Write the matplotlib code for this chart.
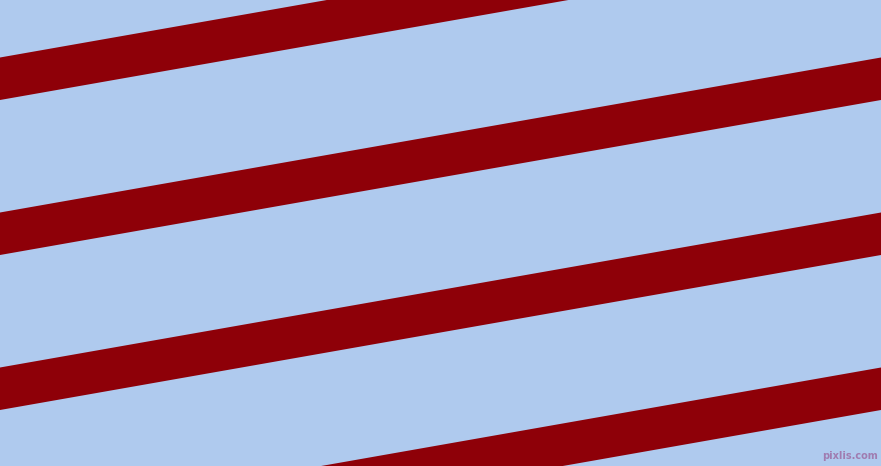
import numpy as np
import matplotlib
matplotlib.use("Agg")
import matplotlib.pyplot as plt

# Pattern data (image pixel units)
width_px = 881
height_px = 466
stripe_left_tops = [57.5, 212.5, 367.5, 522.5]   # top edge of each stripe at x=0
stripe_thickness = [42.5, 42.5, 42.5, 42.5]      # vertical thickness
rise_over_width = [155.0]                         # rise across the full width
background_color = "#AFCAEE"
stripe_color = "#8E0008"
watermark = "pixlis.com"

fig = plt.figure(figsize=(width_px / 100, height_px / 100), dpi=100)
ax = fig.add_axes([0, 0, 1, 1])
ax.set_facecolor(background_color)
fig.patch.set_facecolor(background_color)

slope = rise_over_width[0] / width_px
x = np.array([0.0, float(width_px)])
for top, th in zip(stripe_left_tops, stripe_thickness):
    y_top = top - slope * x
    ax.fill_between(x, y_top, y_top + th, color=stripe_color, linewidth=0)

ax.set_xlim(0, width_px)
ax.set_ylim(height_px, 0)
ax.axis("off")

ax.text(878, 461, watermark, ha="right", va="bottom", fontsize=7,
        color="#A07CB0", family="DejaVu Sans", fontweight="bold")

fig.savefig("out.png", dpi=100, facecolor=background_color)
